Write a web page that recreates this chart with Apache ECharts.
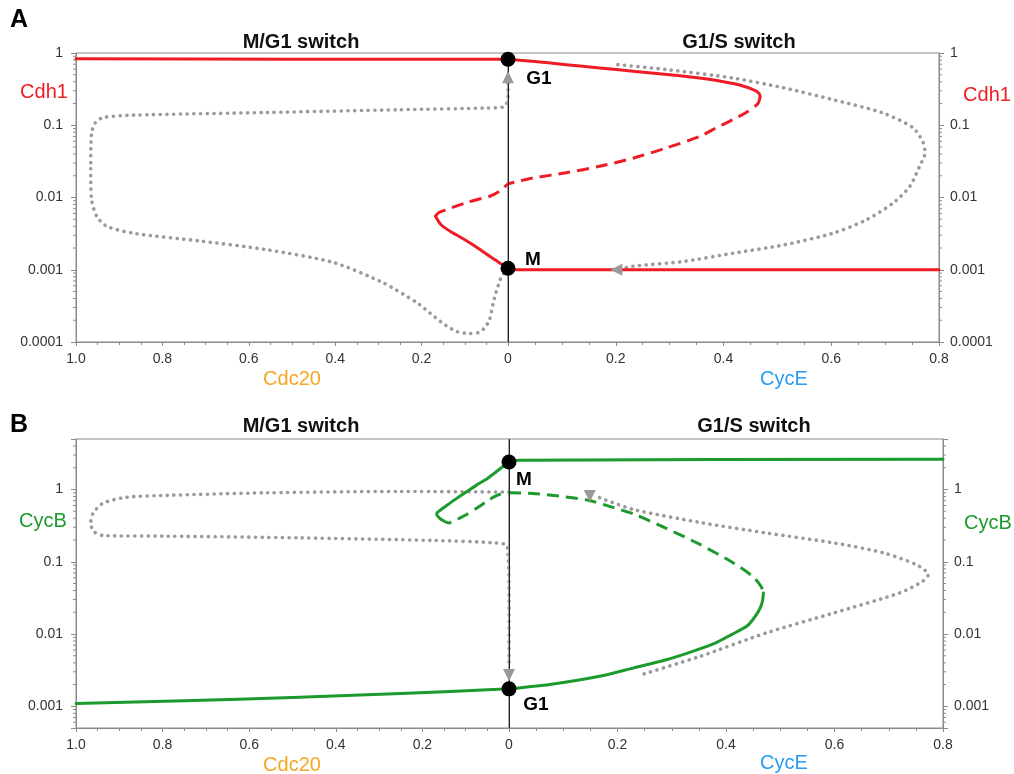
<!DOCTYPE html>
<html>
<head>
<meta charset="utf-8">
<script src="https://cdn.jsdelivr.net/npm/echarts@6/dist/echarts.min.js"></script>
<style>
  html, body { margin: 0; padding: 0; background: #fff; }
  #chart { width: 1014px; height: 774px; }
</style>
</head>
<body>
<div id="chart"></div>
<script>
// ---------------- axis ticks ----------------
const cdc20Ticks = [1.0, 0.8, 0.6, 0.4, 0.2, 0];
const cdc20TickLabels = ['1.0', '0.8', '0.6', '0.4', '0.2', '0'];
const cycETicks = [0, 0.2, 0.4, 0.6, 0.8];
const cycETickLabels = ['', '0.2', '0.4', '0.6', '0.8'];   // "0" is shared with the Cdc20 axis
const logTickLabels = ['1', '0.1', '0.01', '0.001', '0.0001'];
const minorMultipliers = [2, 3, 4, 5, 6, 7, 8, 9];
const cdh1Range = [0.0001, 1];
const cycBRange = [0.0005, 5];

// ---------------- panel A : Cdh1 ----------------
// M/G1 switch (x = Cdc20)
const aCdh1HighLeft = [[1.0, 0.83], [0.5, 0.82], [0, 0.82]];
const aCdh1StableLeft = [[0.168, 0.0055], [0.155, 0.0042], [0.13, 0.0033], [0.10, 0.0026],
  [0.07, 0.0020], [0.04, 0.0015], [0.015, 0.0012], [0, 0.00105]];
const aCdh1UnstableLeft = [[0.168, 0.0055], [0.16, 0.0062], [0.142, 0.0068], [0.12, 0.0076],
  [0.096, 0.0085], [0.07, 0.0094], [0.042, 0.0104], [0.02, 0.0122], [0.008, 0.0140], [0, 0.0155]];
const aTrajLeft = [[0, 0.00105], [0.0146, 0.00081], [0.025, 0.00055], [0.034, 0.00035], [0.043, 0.0002],
  [0.055, 0.000155], [0.068, 0.000135], [0.088, 0.000131], [0.119, 0.00014], [0.15, 0.00018],
  [0.18, 0.00025], [0.211, 0.00035], [0.289, 0.00066], [0.404, 0.00126], [0.559, 0.0019],
  [0.713, 0.0025], [0.867, 0.0032], [0.929, 0.0040], [0.952, 0.0055], [0.964, 0.0093],
  [0.966, 0.027], [0.964, 0.078], [0.956, 0.107], [0.937, 0.128], [0.867, 0.138],
  [0.559, 0.150], [0.25, 0.164], [0.05, 0.173], [0.012, 0.178], [0.003, 0.2], [0, 0.25], [0, 0.40]];
// G1/S switch (x = CycE)
const aCdh1UpperRight = [[0, 0.82], [0.05, 0.76], [0.108, 0.69], [0.17, 0.62], [0.232, 0.56],
  [0.30, 0.50], [0.356, 0.45], [0.40, 0.40], [0.43, 0.36], [0.455, 0.31], [0.466, 0.275], [0.468, 0.25]];
const aCdh1UnstableRight = [[0.468, 0.25], [0.464, 0.20], [0.445, 0.155], [0.418, 0.12], [0.39, 0.095],
  [0.356, 0.070], [0.294, 0.0485], [0.232, 0.035], [0.17, 0.027], [0.108, 0.022], [0.046, 0.0186],
  [0.015, 0.0165], [0, 0.0155]];
const aCdh1LowRight = [[0, 0.001], [0.8, 0.001]];
const aTrajRight = [[0.204, 0.69], [0.294, 0.59], [0.418, 0.45], [0.511, 0.33], [0.603, 0.226],
  [0.696, 0.148], [0.752, 0.092], [0.771, 0.057], [0.774, 0.041], [0.764, 0.027], [0.746, 0.0143],
  [0.715, 0.0084], [0.665, 0.0049], [0.603, 0.0032], [0.511, 0.0022], [0.418, 0.0017],
  [0.325, 0.0013], [0.232, 0.00112], [0.21, 0.00103]];
const aStates = [[0, 0.82, 'G1'], [0, 0.00105, 'M']];
const aArrows = [[0, 0.46, 0], [0.201, 0.001, 90]];   // [CycE, Cdh1, direction in degrees]

// ---------------- panel B : CycB ----------------
// M/G1 switch (x = Cdc20)
const bCycBLowLeft = [[1.0, 0.00109], [0.75, 0.00119], [0.5, 0.00132], [0.25, 0.0015], [0, 0.00174]];
const bCycBStableLeft = [[0, 2.4], [0.02, 1.95], [0.05, 1.42], [0.075, 1.15], [0.098, 0.93],
  [0.12, 0.76], [0.144, 0.60], [0.16, 0.51], [0.167, 0.47], [0.165, 0.43], [0.158, 0.39]];
const bCycBUnstableLeft = [[0.158, 0.39], [0.14, 0.345], [0.12, 0.385], [0.098, 0.45], [0.075, 0.55],
  [0.052, 0.68], [0.035, 0.79], [0.021, 0.86], [0.008, 0.89], [0, 0.9]];
const bTrajLeft = [[0, 0.92], [0.252, 0.94], [0.56, 0.9], [0.79, 0.83], [0.883, 0.78], [0.937, 0.65],
  [0.96, 0.475], [0.966, 0.346], [0.96, 0.265], [0.937, 0.23], [0.79, 0.226], [0.483, 0.214],
  [0.175, 0.197], [0.036, 0.183], [0.004, 0.164], [0, 0.03], [0, 0.0036]];
// G1/S switch (x = CycE)
const bCycBHighRight = [[0, 2.45], [0.02, 2.55], [0.8, 2.62]];
const bCycBUnstableRight = [[0, 0.9], [0.044, 0.88], [0.093, 0.81], [0.146, 0.71], [0.19, 0.57],
  [0.229, 0.46], [0.29, 0.29], [0.351, 0.175], [0.413, 0.097], [0.45, 0.062], [0.465, 0.045], [0.469, 0.037]];
const bCycBStableRight = [[0.469, 0.037], [0.467, 0.028], [0.462, 0.022], [0.45, 0.016], [0.438, 0.0128],
  [0.41, 0.0098], [0.382, 0.0076], [0.34, 0.0058], [0.29, 0.0044], [0.23, 0.0034], [0.167, 0.0026],
  [0.075, 0.0020], [0, 0.00174]];
const bTrajRight = [[0.167, 0.77], [0.229, 0.53], [0.352, 0.35], [0.475, 0.25], [0.598, 0.183],
  [0.69, 0.133], [0.751, 0.091], [0.773, 0.0665], [0.763, 0.054], [0.72, 0.037], [0.598, 0.0195],
  [0.475, 0.0104], [0.352, 0.0049], [0.238, 0.00265]];
const bStates = [[0, 2.4, 'M'], [0, 0.00174, 'G1']];
const bArrows = [[0, 0.0027, 180], [0.149, 0.81, 180]];

// ---------------- styling ----------------
const RED = '#ee1c25', GREEN = '#1c9a2c', GRAY = '#9a9a9a', ORANGE = '#f5a623', BLUE = '#2a9cf0';
const AXIS = '#8a8a8a', TXT = '#333', FONT = '"Liberation Sans", Arial, Helvetica, sans-serif';
const stateLabelOffsets = { A: [[31, 20], [25, -8]], B: [[15, 18], [27, 16]] };

const grids = [
  { left: 76, top: 53, width: 432, height: 289 },
  { left: 508, top: 53, width: 431, height: 289 },
  { left: 76, top: 439, width: 433, height: 289 },
  { left: 509, top: 439, width: 434, height: 289 }
].map(g => Object.assign({ show: true, borderColor: AXIS, borderWidth: 1, containLabel: false, outerBoundsMode: 'none' }, g));

function tickLabel(ticks, labels) {
  return v => {
    const i = ticks.findIndex(t => Math.abs(t - v) < 1e-9);
    return i < 0 ? '' : labels[i];
  };
}
function logLabel(v) {
  const s = String(+Number(v).toPrecision(4));
  return logTickLabels.includes(s) ? s : '';
}

function xAxisOpt(gridIndex, max, inverse, formatter) {
  return {
    type: 'value', gridIndex, min: 0, max, interval: 0.2, inverse,
    axisLine: { show: true, onZero: false, lineStyle: { color: AXIS, width: 1 } },
    axisTick: { show: true, length: 4, lineStyle: { color: AXIS } },
    minorTick: { show: true, splitNumber: 4, length: 3, lineStyle: { color: AXIS } },
    splitLine: { show: false }, minorSplitLine: { show: false },
    axisLabel: { formatter, fontSize: 14, color: TXT, margin: 10, fontFamily: FONT, showMinLabel: true, showMaxLabel: true }
  };
}
function yAxisOpt(gridIndex, range, position) {
  return {
    type: 'log', logBase: 10, gridIndex, min: range[0], max: range[1], position,
    axisLine: { show: true, onZero: false, lineStyle: { color: AXIS, width: 1 } },
    axisTick: { show: true, length: 5, lineStyle: { color: AXIS } },
    splitLine: { show: false },
    axisLabel: { formatter: logLabel, fontSize: 14, color: TXT, margin: position === 'left' ? 13 : 11, fontFamily: FONT }
  };
}

function curve(axis, data, color, kind, z) {
  const ls = { color, width: 3, cap: 'round', join: 'round' };
  if (kind === 'dashed') { ls.type = [12, 7]; ls.cap = 'butt'; }
  if (kind === 'dotted') { ls.type = [0.1, 6.6]; ls.width = 3.6; }
  return {
    type: 'line', xAxisIndex: axis, yAxisIndex: axis, data, showSymbol: false, symbol: 'none',
    smooth: 0.25, clip: false, lineStyle: ls, z: z || 3, silent: true, animation: false
  };
}

function minorTicks(axis, range, side) {
  const vals = [];
  for (let e = -5; e <= 1; e++) {
    minorMultipliers.forEach(m => {
      const v = +(m * Math.pow(10, e)).toPrecision(3);
      if (v > range[0] * 1.0001 && v < range[1] * 0.9999) vals.push([0, v]);
    });
  }
  return {
    type: 'custom', xAxisIndex: axis, yAxisIndex: axis, data: vals, clip: false, silent: true, z: 1,
    animation: false,
    renderItem(params, api) {
      const cs = params.coordSys;
      const y = api.coord([api.value(0), api.value(1)])[1];
      const x0 = side < 0 ? cs.x : cs.x + cs.width;
      return { type: 'line', shape: { x1: x0, y1: y, x2: x0 + side * 3, y2: y },
               style: { stroke: AXIS, lineWidth: 1 } };
    }
  };
}

function states(axis, data, offsets) {
  return {
    type: 'scatter', xAxisIndex: axis, yAxisIndex: axis, symbolSize: 15, clip: false, z: 10,
    itemStyle: { color: '#000', opacity: 1 }, silent: true, animation: false,
    data: data.map((d, i) => ({
      value: [d[0], d[1]], name: d[2],
      label: { show: true, formatter: d[2], position: 'inside', offset: offsets[i],
               color: '#000', fontSize: 19, fontWeight: 'bold', fontFamily: FONT,
               textBorderWidth: 0, textBorderColor: 'transparent' }
    }))
  };
}
function arrows(axis, data) {
  return {
    type: 'scatter', xAxisIndex: axis, yAxisIndex: axis, symbol: 'triangle', symbolSize: [12, 12],
    clip: false, z: 8, itemStyle: { color: GRAY, opacity: 1 }, silent: true, animation: false,
    data: data.map(d => ({ value: [d[0], d[1]], symbolRotate: d[2] }))
  };
}
function centerLine(axis) {
  return {
    type: 'line', xAxisIndex: axis, yAxisIndex: axis, data: [], z: 2, silent: true, animation: false,
    markLine: { silent: true, symbol: 'none', label: { show: false }, animation: false,
                lineStyle: { color: '#222', width: 1, type: 'solid' }, data: [{ xAxis: 0 }] }
  };
}

const texts = [
  { t: 'A', x: 19, y: 20, size: 25, bold: true, color: '#000' },
  { t: 'B', x: 19, y: 425, size: 25, bold: true, color: '#000' },
  { t: 'M/G1 switch', x: 301, y: 42, size: 20, bold: true, color: '#111' },
  { t: 'G1/S switch', x: 739, y: 42, size: 20, bold: true, color: '#111' },
  { t: 'M/G1 switch', x: 301, y: 426, size: 20, bold: true, color: '#111' },
  { t: 'G1/S switch', x: 754, y: 426, size: 20, bold: true, color: '#111' },
  { t: 'Cdh1', x: 44, y: 92, size: 20, color: RED },
  { t: 'Cdh1', x: 987, y: 95, size: 20, color: RED },
  { t: 'CycB', x: 43, y: 521, size: 20, color: GREEN },
  { t: 'CycB', x: 988, y: 523, size: 20, color: GREEN },
  { t: 'Cdc20', x: 292, y: 379, size: 20, color: ORANGE },
  { t: 'CycE', x: 784, y: 379, size: 20, color: BLUE },
  { t: 'Cdc20', x: 292, y: 765, size: 20, color: ORANGE },
  { t: 'CycE', x: 784, y: 763, size: 20, color: BLUE }
];

const option = {
  backgroundColor: '#fff',
  animation: false,
  grid: grids,
  xAxis: [
    xAxisOpt(0, 1, true, tickLabel(cdc20Ticks, cdc20TickLabels)),
    xAxisOpt(1, 0.8, false, tickLabel(cycETicks, cycETickLabels)),
    xAxisOpt(2, 1, true, tickLabel(cdc20Ticks, cdc20TickLabels)),
    xAxisOpt(3, 0.8, false, tickLabel(cycETicks, cycETickLabels))
  ],
  yAxis: [
    yAxisOpt(0, cdh1Range, 'left'),
    yAxisOpt(1, cdh1Range, 'right'),
    yAxisOpt(2, cycBRange, 'left'),
    yAxisOpt(3, cycBRange, 'right')
  ],
  series: [
    // panel A
    minorTicks(0, cdh1Range, -1), minorTicks(1, cdh1Range, 1),
    centerLine(1),
    curve(0, aTrajLeft, GRAY, 'dotted', 3),
    curve(1, aTrajRight, GRAY, 'dotted', 3),
    curve(0, aCdh1HighLeft, RED, 'solid', 4),
    curve(0, aCdh1StableLeft, RED, 'solid', 4),
    curve(0, aCdh1UnstableLeft, RED, 'dashed', 4),
    curve(1, aCdh1UpperRight, RED, 'solid', 4),
    curve(1, aCdh1UnstableRight, RED, 'dashed', 4),
    curve(1, aCdh1LowRight, RED, 'solid', 4),
    arrows(1, aArrows),
    states(1, aStates, stateLabelOffsets.A),
    // panel B
    minorTicks(2, cycBRange, -1), minorTicks(3, cycBRange, 1),
    centerLine(3),
    curve(2, bTrajLeft, GRAY, 'dotted', 3),
    curve(3, bTrajRight, GRAY, 'dotted', 3),
    curve(2, bCycBLowLeft, GREEN, 'solid', 4),
    curve(2, bCycBStableLeft, GREEN, 'solid', 4),
    curve(2, bCycBUnstableLeft, GREEN, 'dashed', 4),
    curve(3, bCycBHighRight, GREEN, 'solid', 4),
    curve(3, bCycBUnstableRight, GREEN, 'dashed', 4),
    curve(3, bCycBStableRight, GREEN, 'solid', 4),
    arrows(3, bArrows),
    states(3, bStates, stateLabelOffsets.B)
  ],
  graphic: texts.map(o => ({
    type: 'text', x: o.x, y: o.y, z: 100, silent: true,
    style: { text: o.t, fill: o.color, align: 'center', verticalAlign: 'middle',
             font: (o.bold ? 'bold ' : '') + o.size + 'px ' + FONT }
  }))
};

const chart = echarts.init(document.getElementById('chart'), null, { renderer: 'canvas' });
chart.setOption(option);
</script>
</body>
</html>
